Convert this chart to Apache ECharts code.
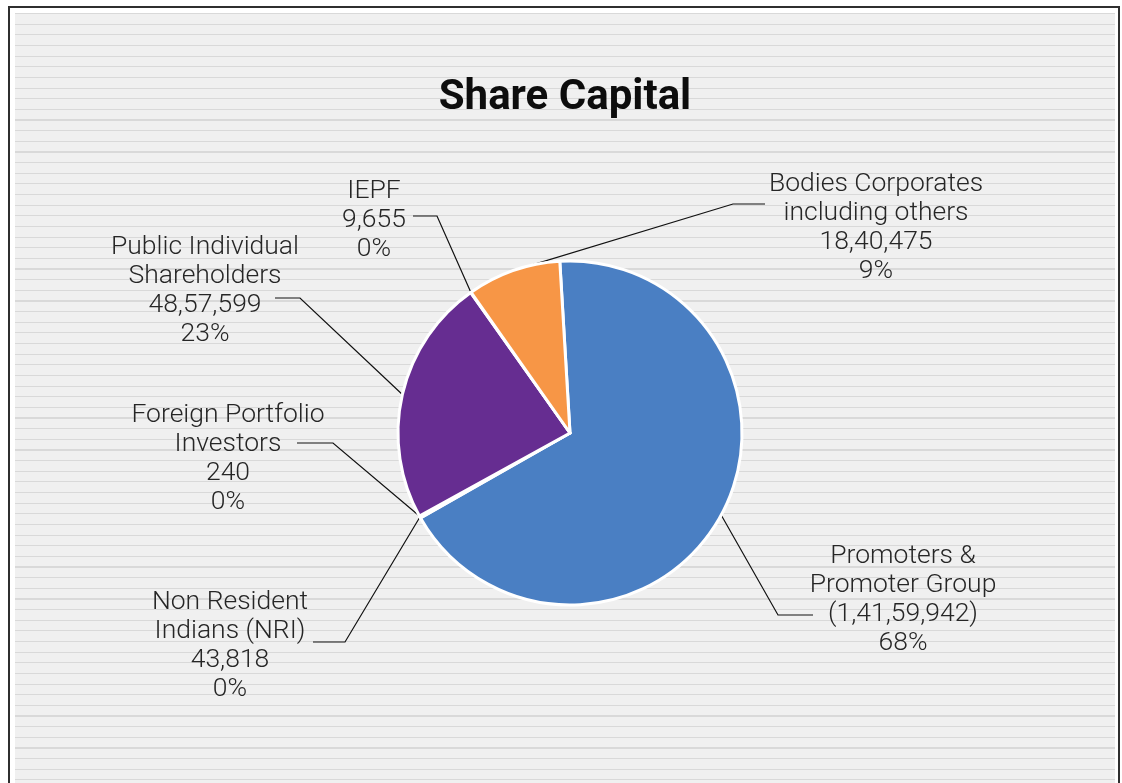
<!DOCTYPE html>
<html>
<head>
<meta charset="utf-8">
<title>Share Capital</title>
<script src="https://cdn.jsdelivr.net/npm/echarts@6/dist/echarts.min.js"></script>
<style>
  html, body { margin: 0; padding: 0; width: 1122px; height: 783px; overflow: hidden; background: #ffffff; }
  #frame {
    position: absolute; left: 8px; top: 6px; width: 1112px; height: 800px;
    box-sizing: border-box; border: 2px solid #2f2f2f; border-bottom: none; background: #ffffff;
  }
  #panel {
    position: absolute; left: 15px; top: 13px; width: 1100px; height: 770px;
    background: repeating-linear-gradient(to bottom,
      #d9d9d9 0px, #d9d9d9 1.2px, #f0f0f0 1.2px, #f0f0f0 10.643px);
  }
  #chart { position: absolute; left: 0; top: 0; width: 1122px; height: 783px; }
</style>
</head>
<body>
<div id="frame"></div>
<div id="panel"></div>
<div id="chart"></div>
<script>
// Shareholding categories, in the order the slices run clockwise from the top
const categories = [
  'Promoters &\nPromoter Group',
  'Non Resident\nIndians (NRI)',
  'Foreign Portfolio\nInvestors',
  'Public Individual\nShareholders',
  'IEPF',
  'Bodies Corporates\nincluding others'
];
// Number of shares held by each category
const shareCounts = [14159942, 43818, 240, 4857599, 9655, 1840475];
// Slice fills
const sliceColors = ['#4a7fc3', '#a5a5a5', '#ffc000', '#662d91', '#5b9bd5', '#f79646'];
// Category whose count is printed in brackets
const bracketedCategory = 'Promoters &\nPromoter Group';

// Where each label block sits and how its leader line bends (pixels)
const labelSpots = [
  { x: 903, y: 600, elbow: [778, 615], end: [813, 615] },
  { x: 230, y: 646, elbow: [345, 642], end: [313, 642] },
  { x: 228, y: 459, elbow: [333, 443], end: [297, 443] },
  { x: 205, y: 291, elbow: [300, 298], end: [275, 298] },
  { x: 374, y: 220, elbow: [437, 216], end: [413, 216] },
  { x: 876, y: 228, elbow: [733, 204], end: [765, 204] }
];

const totalShares = shareCounts.reduce((a, b) => a + b, 0);

// Indian digit grouping: 1,41,59,942
function indianFormat(n) {
  const s = String(Math.round(n));
  if (s.length <= 3) return s;
  const last3 = s.slice(-3);
  let rest = s.slice(0, -3);
  const parts = [];
  while (rest.length > 2) {
    parts.unshift(rest.slice(-2));
    rest = rest.slice(0, -2);
  }
  if (rest) parts.unshift(rest);
  return parts.join(',') + ',' + last3;
}

const chart = echarts.init(document.getElementById('chart'), null, { renderer: 'canvas' });

chart.setOption({
  backgroundColor: 'transparent',
  animation: false,
  title: {
    text: 'Share Capital',
    left: 565,
    textAlign: 'center',
    top: 77,
    padding: 0,
    textStyle: {
      fontFamily: 'Roboto',
      fontWeight: 'bold',
      fontSize: 42,
      color: '#0d0d0d'
    }
  },
  series: [{
    type: 'pie',
    center: [570, 433],
    radius: 172,
    startAngle: 93.4,
    clockwise: true,
    avoidLabelOverlap: false,
    silent: true,
    emphasis: { disabled: true },
    itemStyle: { borderColor: '#ffffff', borderWidth: 3 },
    data: categories.map((name, i) => ({
      name: name,
      value: shareCounts[i],
      itemStyle: { color: sliceColors[i] }
    })),
    label: {
      show: true,
      position: 'outside',
      overflow: 'none',
      fontFamily: 'Roboto',
      fontWeight: 300,
      fontSize: 26.5,
      lineHeight: 29,
      color: '#262626',
      align: 'center',
      formatter: function (p) {
        const countText = indianFormat(p.value);
        const shown = p.name === bracketedCategory ? '(' + countText + ')' : countText;
        const pct = Math.round(p.value / totalShares * 100);
        return p.name + '\n' + shown + '\n' + pct + '%';
      }
    },
    labelLine: {
      show: true,
      smooth: false,
      lineStyle: { color: '#111111', width: 1.2 }
    },
    labelLayout: function (params) {
      const spot = labelSpots[params.dataIndex];
      const start = params.labelLinePoints ? params.labelLinePoints[0] : spot.elbow;
      return {
        x: spot.x,
        y: spot.y,
        align: 'center',
        verticalAlign: 'middle',
        labelLinePoints: [start, spot.elbow, spot.end]
      };
    }
  }]
});
</script>
</body>
</html>
